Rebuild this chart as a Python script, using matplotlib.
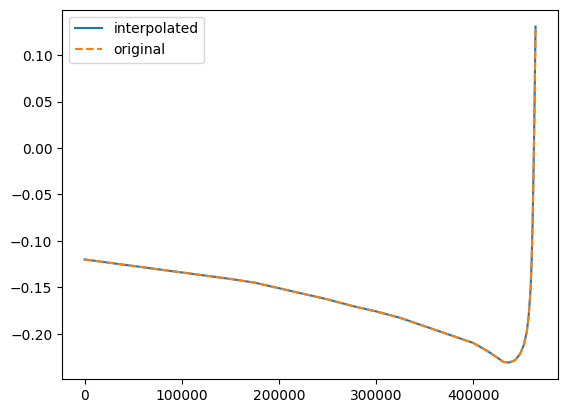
import matplotlib
matplotlib.use("Agg")
import matplotlib.pyplot as plt

x = [0, 25000, 50000, 75000, 100000, 125000, 150000, 175000, 200000, 225000, 250000,
     275000, 300000, 325000, 350000, 375000, 400000, 415000, 425000, 431000, 437000,
     443000, 448000, 452000, 455000, 457000, 459000, 460000, 461000, 462000, 463000, 464000]
y = [-0.120, -0.1235, -0.127, -0.1305, -0.134, -0.1375, -0.141, -0.145, -0.151, -0.157,
     -0.163, -0.170, -0.176, -0.183, -0.192, -0.201, -0.210, -0.219, -0.226, -0.2305,
     -0.231, -0.2285, -0.222, -0.212, -0.198, -0.180, -0.150, -0.120, -0.080, -0.020,
     0.05, 0.131]

fig, ax = plt.subplots(figsize=(6.4, 4.8), dpi=100)
ax.plot(x, y, label="interpolated")
ax.plot(x, y, "--", label="original")
ax.legend(loc="upper left")
fig.savefig("out.png", dpi=100, bbox_inches="tight")
